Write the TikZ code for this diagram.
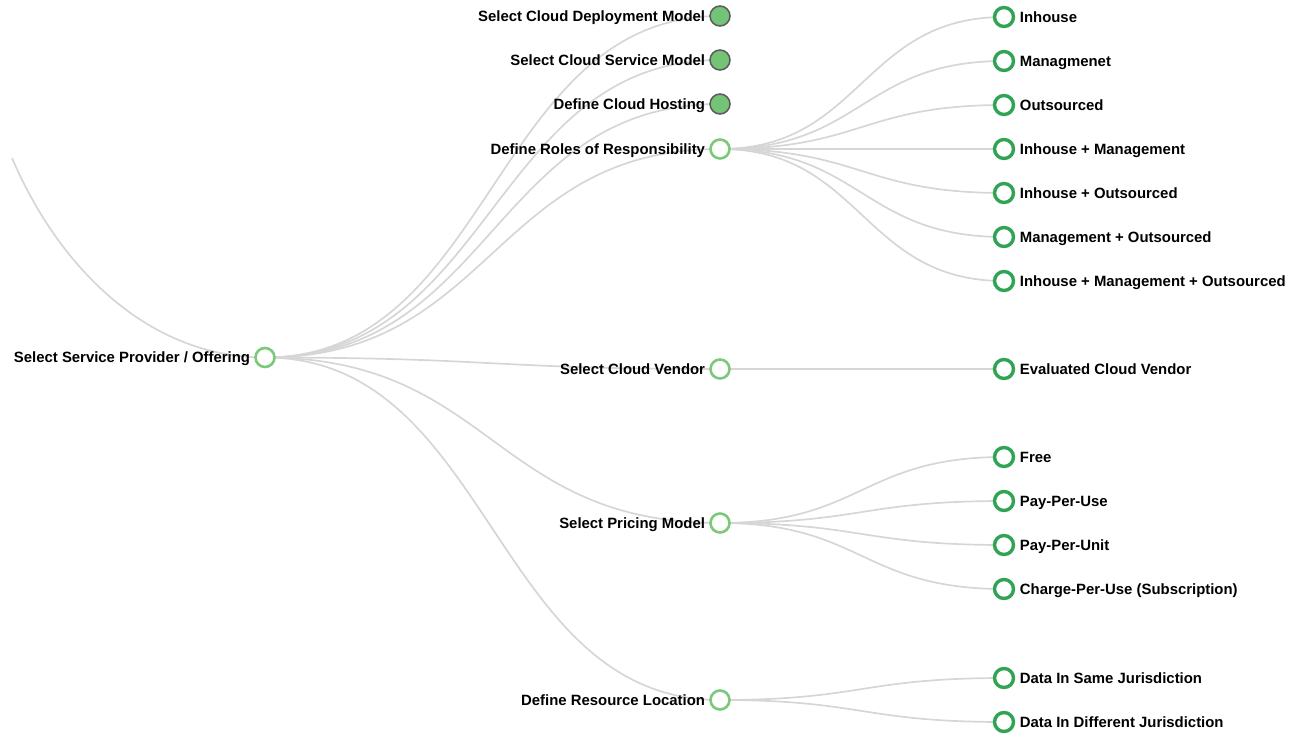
\documentclass[tikz,border=0pt]{standalone}
\usepackage{fontspec}
\setmainfont{Liberation Sans}
\usetikzlibrary{positioning,backgrounds}
\definecolor{linkgray}{HTML}{D6D6D6}
\definecolor{lightgreen}{HTML}{7CC97C}
\definecolor{fillgreen}{HTML}{74C476}
\definecolor{darkgreen}{HTML}{31A354}
\definecolor{ringgray}{HTML}{5A5A5A}

\begin{document}
\begin{tikzpicture}[x=1pt,y=-1pt,node distance=4pt]
  \tikzstyle{open} = [circle,draw=lightgreen,fill=white,line width=2.6pt,minimum size=19pt,inner sep=0pt]
  \tikzstyle{done} = [circle,draw=ringgray,fill=fillgreen,line width=1.5pt,minimum size=20pt,inner sep=0pt]
  \tikzstyle{leaf} = [circle,draw=darkgreen,fill=white,line width=3.4pt,minimum size=19pt,inner sep=0pt]
  \tikzstyle{txt} = [font=\bfseries\fontsize{14.9}{16}\selectfont,inner sep=0pt,text height=11pt,text depth=1pt]
  \tikzstyle{edge} = [draw=linkgray,line width=1.7pt]

  \useasboundingbox (0,0) rectangle (1300,734);

  % root
  \node[open] (root) at (265,357.5) {};
  \node[txt] (root-t) [left=of root] {Select Service Provider / Offering};
  \coordinate (up) at (12,158);

  % first level
  \node[done] (dep) at (720,16) {};
  \node[done] (svc) at (720,60) {};
  \node[done] (host) at (720,104) {};
  \node[open] (roles) at (720,149) {};
  \node[open] (vendor) at (720,369) {};
  \node[open] (pricing) at (720,523) {};
  \node[open] (loc) at (720,700) {};
  \node[txt] (dep-t) [left=of dep] {Select Cloud Deployment Model};
  \node[txt] (svc-t) [left=of svc] {Select Cloud Service Model};
  \node[txt] (host-t) [left=of host] {Define Cloud Hosting};
  \node[txt] (roles-t) [left=of roles] {Define Roles of Responsibility};
  \node[txt] (vendor-t) [left=of vendor] {Select Cloud Vendor};
  \node[txt] (pricing-t) [left=of pricing] {Select Pricing Model};
  \node[txt] (loc-t) [left=of loc] {Define Resource Location};

  % second level
  \begin{scope}[node distance=4.5pt]
    \node[leaf] (inh) at (1004,17) {};
    \node[leaf] (mgt) at (1004,61) {};
    \node[leaf] (out) at (1004,105) {};
    \node[leaf] (inhmgt) at (1004,149) {};
    \node[leaf] (inhout) at (1004,193) {};
    \node[leaf] (mgtout) at (1004,237) {};
    \node[leaf] (all) at (1004,281) {};
    \node[leaf] (eval) at (1004,369) {};
    \node[leaf] (free) at (1004,457) {};
    \node[leaf] (ppuse) at (1004,501) {};
    \node[leaf] (ppunit) at (1004,545) {};
    \node[leaf] (sub) at (1004,589) {};
    \node[leaf] (same) at (1004,678) {};
    \node[leaf] (diff) at (1004,722) {};
    \node[txt] (inh-t) [right=of inh] {Inhouse};
    \node[txt] (mgt-t) [right=of mgt] {Managmenet};
    \node[txt] (out-t) [right=of out] {Outsourced};
    \node[txt] (inhmgt-t) [right=of inhmgt] {Inhouse + Management};
    \node[txt] (inhout-t) [right=of inhout] {Inhouse + Outsourced};
    \node[txt] (mgtout-t) [right=of mgtout] {Management + Outsourced};
    \node[txt] (all-t) [right=of all] {Inhouse + Management + Outsourced};
    \node[txt] (eval-t) [right=of eval] {Evaluated Cloud Vendor};
    \node[txt] (free-t) [right=of free] {Free};
    \node[txt] (ppuse-t) [right=of ppuse] {Pay-Per-Use};
    \node[txt] (ppunit-t) [right=of ppunit] {Pay-Per-Unit};
    \node[txt] (sub-t) [right=of sub] {Charge-Per-Use (Subscription)};
    \node[txt] (same-t) [right=of same] {Data In Same Jurisdiction};
    \node[txt] (diff-t) [right=of diff] {Data In Different Jurisdiction};
  \end{scope}

  % links
  \begin{scope}[on background layer]
    \draw[edge] (up) .. controls (60,270) and (150,357.5) .. (root.center);
    \foreach \n in {dep,svc,host,roles,vendor,pricing,loc}
      \draw[edge] (root.center) .. controls +(227.5,0) and +(-227.5,0) .. (\n.center);
    \foreach \n in {inh,mgt,out,inhmgt,inhout,mgtout,all}
      \draw[edge] (roles.center) .. controls +(142,0) and +(-142,0) .. (\n.center);
    \draw[edge] (vendor.center) -- (eval.center);
    \foreach \n in {free,ppuse,ppunit,sub}
      \draw[edge] (pricing.center) .. controls +(142,0) and +(-142,0) .. (\n.center);
    \foreach \n in {same,diff}
      \draw[edge] (loc.center) .. controls +(142,0) and +(-142,0) .. (\n.center);
  \end{scope}
\end{tikzpicture}
\end{document}
